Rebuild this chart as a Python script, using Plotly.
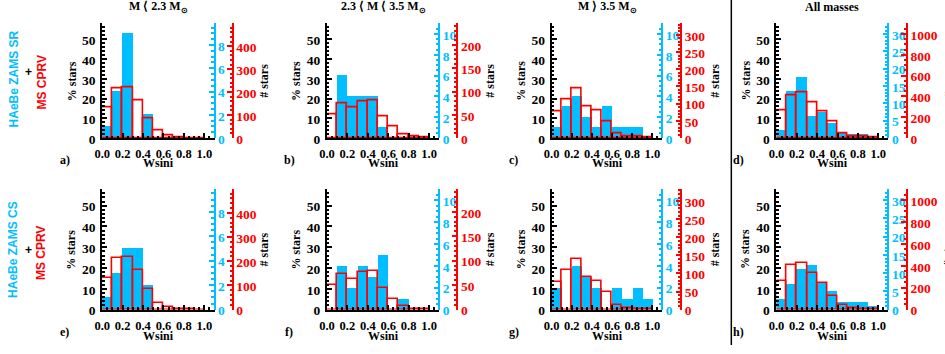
import plotly.graph_objects as go

W, H = 945, 354

# histogram bins of Wsini (0.0 - 1.0, width 0.1)
bin_left = [0.0, 0.1, 0.2, 0.3, 0.4, 0.5, 0.6, 0.7, 0.8, 0.9]

# % stars per bin, HAeBe (cyan, filled) and MS CPRV (red, outlined)
a_cyan = [5.9, 23.5, 52.9, 0, 11.8, 0, 0, 0, 0, 0]
a_red = [15.6, 25.1, 25.8, 19.2, 10.2, 4.1, 1.5, 0.3, 0.1, 0]
b_cyan = [0, 31.6, 21.1, 21.1, 21.1, 5.3, 0, 0, 0, 0]
b_red = [12.0, 17.3, 15.3, 18.4, 18.9, 11.0, 5.8, 2.1, 0.9, 0.3]
c_cyan = [5.3, 15.8, 21.1, 10.5, 5.3, 15.8, 5.3, 5.3, 5.3, 0]
c_red = [13.7, 19.4, 25.0, 15.9, 14.0, 8.7, 2.5, 1.1, 0.9, 0.5]
d_cyan = [3.8, 23.4, 30.7, 11.0, 13.1, 7.4, 2.5, 2.1, 2.1, 0]
d_red = [14.0, 21.8, 23.0, 18.0, 13.5, 8.3, 2.5, 1.1, 0.9, 0.5]
e_cyan = [5.9, 17.6, 29.4, 29.4, 11.8, 0, 0, 0, 0, 0]
e_red = [15.3, 24.6, 25.5, 18.8, 9.8, 3.3, 1.0, 0.2, 0.1, 0]
f_cyan = [0, 21.1, 10.5, 21.1, 15.8, 26.3, 0, 5.3, 0, 0]
f_red = [11.7, 17.2, 14.5, 18.0, 18.5, 10.3, 5.2, 1.5, 0.5, 0.3]
g_cyan = [10.5, 0, 21.1, 15.8, 10.5, 0, 10.5, 5.3, 10.5, 5.3]
g_red = [13.3, 18.9, 24.4, 15.6, 13.5, 8.6, 2.0, 0.8, 0.5, 0.3]
h_cyan = [5.2, 12.5, 19.5, 21.6, 12.6, 8.8, 3.6, 3.6, 3.6, 1.5]
h_red = [13.8, 21.3, 22.6, 17.6, 13.0, 6.4, 2.0, 0.8, 0.5, 0.3]

panels = [(a_cyan, a_red), (b_cyan, b_red), (c_cyan, c_red), (d_cyan, d_red),
          (e_cyan, e_red), (f_cyan, f_red), (g_cyan, g_red), (h_cyan, h_red)]
panel_letters = ['a)', 'b)', 'c)', 'd)', 'e)', 'f)', 'g)', 'h)']

col_titles = ['M ⟨ 2.3 M<sub>⊙</sub>', '2.3 ⟨ M ⟨ 3.5 M<sub>⊙</sub>',
              'M ⟩ 3.5 M<sub>⊙</sub>', 'All masses']
row_labels = ['HAeBe ZAMS SR', 'HAeBe ZAMS CS']

# total number of stars per column (scales the right-hand count axes)
cyan_total = [17, 19, 19, 57]
red_total = [860, 425, 575, 1900]
cyan_ticks = [[0, 2, 4, 6, 8], [0, 2, 4, 6, 8, 10], [0, 2, 4, 6, 8, 10], [0, 5, 10, 15, 20, 25, 30]]
cyan_minor = [0.5, 0.5, 0.5, 1]
red_ticks = [[0, 100, 200, 300, 400], [0, 50, 100, 150, 200],
             [0, 50, 100, 150, 200, 250, 300], [0, 200, 400, 600, 800, 1000]]
red_minor = [20, 10, 10, 50]
pct_ticks = [0, 10, 20, 30, 40, 50]

# pixel geometry
left_px = [95, 321.7, 548.3, 775]
cyan_px = [208.3, 435, 660, 888]
red_px = [226.7, 453.3, 679, 906.7]
hash_dx = [31.6, 32.7, 34, 42]
row_top = [24, 194]
row_bot = [141.7, 317.7]
wsini_dy = [26, 27]
letter_dy = [22, 23]

CYAN = 'rgb(0,190,255)'
RED = 'rgb(255,0,0)'
SERIF = 'Liberation Serif'
SANS = 'Liberation Sans'
PMAX = 58
TSIZE = 13.5


def px(x):
    return x / W


def py(y):
    return 1 - y / H


fig = go.Figure()
annotations = []

for k, (cy, rd) in enumerate(panels):
    col, row = k % 4, k // 4
    xa = 'x' if k == 0 else 'x%d' % (k + 1)
    yid = 3 * k + 1
    ya = 'y' if yid == 1 else 'y%d' % yid
    centers = [b + 0.05 for b in bin_left]

    fig.add_trace(go.Bar(x=centers, y=cy, width=0.1, xaxis=xa, yaxis=ya,
                         marker=dict(color=CYAN, line=dict(width=0)), showlegend=False))
    fig.add_trace(go.Bar(x=centers, y=rd, width=0.1, xaxis=xa, yaxis=ya,
                         marker=dict(color='rgba(0,0,0,0)', line=dict(color=RED, width=1.6)),
                         showlegend=False))
    # empty traces so the count axes get drawn
    for extra in (yid + 1, yid + 2):
        fig.add_trace(go.Scatter(x=[None], y=[None], xaxis=xa, yaxis='y%d' % extra,
                                 mode='markers', showlegend=False, hoverinfo='skip'))

    xdom = [px(left_px[col]), px(cyan_px[col])]
    ydom = [py(row_bot[row]), py(row_top[row])]
    tfont = dict(family=SERIF, size=TSIZE, color='black', weight='bold')

    fig.layout['xaxis' if k == 0 else 'xaxis%d' % (k + 1)] = dict(
        domain=xdom, anchor=ya, range=[0, 1.1], dtick=0.2, tick0=0, tickformat='.1f',
        showline=True, linecolor='black', linewidth=2, ticks='inside', ticklen=5,
        tickcolor='black', tickwidth=1.5, tickfont=dict(tfont, size=12.5),
        showgrid=False, zeroline=False,
        minor=dict(dtick=0.05, tick0=0, ticks='inside', ticklen=2.5, tickcolor='black'),
        ticklabelstandoff=3, fixedrange=True)
    fig.layout['yaxis' if yid == 1 else 'yaxis%d' % yid] = dict(
        domain=ydom, anchor=xa, range=[0, PMAX], tickmode='array', tickvals=pct_ticks,
        showline=True, linecolor='black', linewidth=2, ticks='inside', ticklen=5,
        tickcolor='black', tickwidth=1.5, tickfont=tfont, showgrid=False, zeroline=False,
        minor=dict(dtick=2, tick0=0, ticks='inside', ticklen=2.5, tickcolor='black'),
        ticklabelshift=1, ticklabelstandoff=2, fixedrange=True)
    fig.layout['yaxis%d' % (yid + 1)] = dict(
        domain=ydom, overlaying=ya, anchor='free', position=px(cyan_px[col]), side='right',
        range=[0, PMAX * cyan_total[col] / 100], tickmode='array', tickvals=cyan_ticks[col],
        showline=True, linecolor=CYAN, linewidth=1.5, ticks='inside', ticklen=5,
        tickcolor=CYAN, tickwidth=1.5, showgrid=False, zeroline=False,
        tickfont=dict(family=SERIF, size=TSIZE, color=CYAN, weight='bold'),
        minor=dict(dtick=cyan_minor[col], tick0=0, ticks='inside', ticklen=2.5, tickcolor=CYAN),
        ticklabelshift=1, fixedrange=True)
    fig.layout['yaxis%d' % (yid + 2)] = dict(
        domain=ydom, overlaying=ya, anchor='free', position=px(red_px[col]), side='right',
        range=[0, PMAX * red_total[col] / 100], tickmode='array', tickvals=red_ticks[col],
        showline=True, linecolor=RED, linewidth=1.5, ticks='inside', ticklen=5,
        tickcolor=RED, tickwidth=1.5, showgrid=False, zeroline=False,
        tickfont=dict(family=SERIF, size=TSIZE, color=RED, weight='bold'),
        minor=dict(dtick=red_minor[col], tick0=0, ticks='inside', ticklen=2.5, tickcolor=RED),
        ticklabelshift=1, fixedrange=True)

    ymid = (row_top[row] + row_bot[row]) / 2
    lab = dict(family=SERIF, size=12, color='black', weight='bold')
    annotations.append(dict(text='% stars', x=px(left_px[col] - 31), y=py(ymid), textangle=-90,
                            font=lab))
    annotations.append(dict(text='# stars', x=px(red_px[col] + hash_dx[col]), y=py(ymid),
                            textangle=-90, font=lab))
    annotations.append(dict(text='Wsini', x=px((left_px[col] + cyan_px[col]) / 2),
                            y=py(row_bot[row] + wsini_dy[row]), font=lab))
    annotations.append(dict(text=panel_letters[k], x=px(left_px[col] - 38),
                            y=py(row_bot[row] + letter_dy[row]), font=lab))

for col in range(4):
    annotations.append(dict(text=col_titles[col], x=px((left_px[col] + cyan_px[col]) / 2),
                            y=py(7), font=dict(family=SERIF, size=12, color='black', weight='bold')))

row_y = [(81, 74, 85), (256, 257, 260)]
for row in range(2):
    ylab, yplus, yms = row_y[row]
    sfont = dict(family=SANS, size=12, weight='bold')
    annotations.append(dict(text=row_labels[row], x=px(5.5), y=py(ylab), textangle=-90,
                            font=dict(sfont, color=CYAN)))
    annotations.append(dict(text='+', x=px(21), y=py(yplus), font=dict(sfont, color='black')))
    annotations.append(dict(text='MS CPRV', x=px(34), y=py(yms), textangle=-90,
                            font=dict(sfont, color=RED)))

for an in annotations:
    an.update(xref='paper', yref='paper', showarrow=False, xanchor='center', yanchor='middle',
              borderpad=0)

fig.add_shape(type='line', xref='paper', yref='paper', x0=px(729.5), x1=px(729.5), y0=0, y1=1,
              line=dict(color='black', width=1.5))

fig.update_layout(width=W, height=H, margin=dict(l=0, r=0, t=0, b=0),
                  paper_bgcolor='white', plot_bgcolor='white', barmode='overlay', bargap=0,
                  annotations=annotations, showlegend=False)

fig.write_html('out.html', config={'displayModeBar': False},
               post_script="document.body.style.margin='0';document.body.style.overflow='hidden';")
